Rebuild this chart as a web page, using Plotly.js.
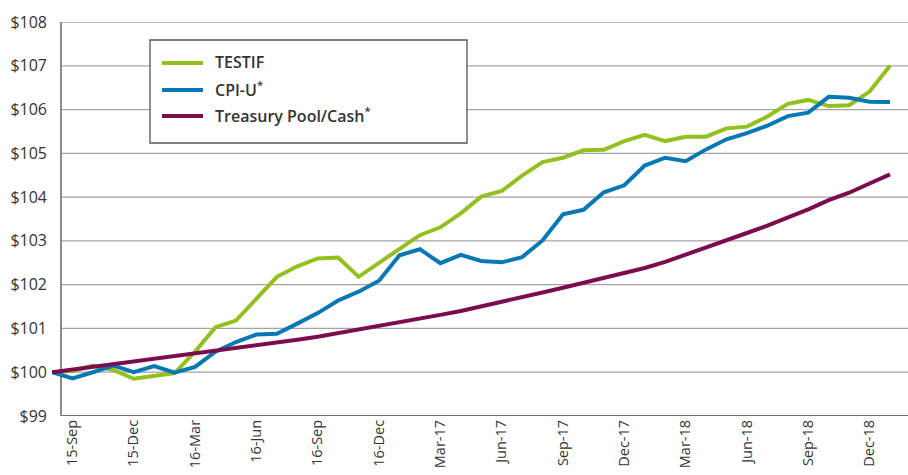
<!DOCTYPE html>
<html>
<head>
<meta charset="utf-8">
<script src="https://cdn.plot.ly/plotly-3.0.1.min.js"></script>
<style>
  html, body { margin: 0; padding: 0; background: #ffffff; }
  #chart { width: 908px; height: 475px; }
</style>
</head>
<body>
<div id="chart"></div>
<script>
// ---- Data ----
const months = [
  "Aug-15","Sep-15","Oct-15","Nov-15","Dec-15",
  "Jan-16","Feb-16","Mar-16","Apr-16","May-16","Jun-16","Jul-16","Aug-16","Sep-16","Oct-16","Nov-16","Dec-16",
  "Jan-17","Feb-17","Mar-17","Apr-17","May-17","Jun-17","Jul-17","Aug-17","Sep-17","Oct-17","Nov-17","Dec-17",
  "Jan-18","Feb-18","Mar-18","Apr-18","May-18","Jun-18","Jul-18","Aug-18","Sep-18","Oct-18","Nov-18","Dec-18",
  "Jan-19"
];

const testif = [
  100.00, 100.03, 100.15, 100.05, 99.85,
  99.92, 99.98, 100.47, 101.03, 101.18, 101.69, 102.18, 102.42, 102.60, 102.62, 102.18, 102.50,
  102.82, 103.13, 103.31, 103.63, 104.01, 104.14, 104.49, 104.80, 104.90, 105.07, 105.08, 105.28,
  105.42, 105.28, 105.38, 105.38, 105.57, 105.61, 105.84, 106.13, 106.22, 106.08, 106.10, 106.41,
  107.00
];

const cpiU = [
  100.00, 99.86, 100.00, 100.15, 100.00,
  100.14, 99.99, 100.12, 100.47, 100.69, 100.86, 100.88, 101.11, 101.35, 101.64, 101.84, 102.09,
  102.67, 102.81, 102.49, 102.68, 102.54, 102.51, 102.63, 103.01, 103.61, 103.71, 104.11, 104.27,
  104.72, 104.90, 104.82, 105.09, 105.32, 105.46, 105.63, 105.85, 105.93, 106.29, 106.27, 106.18,
  106.17
];

const treasury = [
  100.00, 100.06, 100.12, 100.18, 100.24,
  100.30, 100.36, 100.42, 100.48, 100.54, 100.60, 100.66, 100.74, 100.81, 100.89, 100.97, 101.05,
  101.13, 101.22, 101.31, 101.40, 101.50, 101.60, 101.71, 101.82, 101.93, 102.04, 102.15, 102.26,
  102.38, 102.52, 102.68, 102.86, 103.02, 103.18, 103.35, 103.53, 103.72, 103.93, 104.10, 104.31,
  104.52
];

const seriesNames = ["TESTIF", "CPI-U<sup>*</sup>", "Treasury Pool/Cash<sup>*</sup>"];
const seriesColors = ["#93c01f", "#0878b4", "#7b0d4e"];

const tickMonths = ["Sep-15","Dec-15","Mar-16","Jun-16","Sep-16","Dec-16","Mar-17","Jun-17","Sep-17","Dec-17","Mar-18","Jun-18","Sep-18","Dec-18"];
const tickLabels = ["15-Sep","15-Dec","16-Mar","16-Jun","16-Sep","16-Dec","Mar-17","Jun-17","Sep-17","Dec-17","Mar-18","Jun-18","Sep-18","Dec-18"];

const yTicks = [99, 100, 101, 102, 103, 104, 105, 106, 107, 108];
const yLabels = yTicks.map(v => "$" + v);

// ---- Layout helpers (pixel -> paper) ----
const W = 908, H = 475;
const M = { l: 52, r: 0, t: 22, b: 59 };
const PW = W - M.l - M.r, PH = H - M.t - M.b;
const px = x => (x - M.l) / PW;
const py = y => (H - M.b - y) / PH;

const axisX = px(61);

const seriesData = [testif, cpiU, treasury];
const traces = seriesData.map((vals, k) => ({
  type: "scatter",
  mode: "lines",
  x: months,
  y: vals,
  name: seriesNames[k],
  line: { color: seriesColors[k], width: 4, shape: "linear" },
  hoverinfo: "skip",
  showlegend: false
}));

const shapes = [];
// gridlines
yTicks.forEach(v => {
  if (v === yTicks[0]) return;
  shapes.push({
    type: "line", xref: "paper", yref: "y", x0: axisX, x1: 1, y0: v, y1: v,
    line: { color: "#a3a3a3", width: 1.3 }, layer: "below"
  });
});
// x axis line at bottom
shapes.push({
  type: "line", xref: "paper", yref: "y", x0: axisX, x1: 1, y0: yTicks[0], y1: yTicks[0],
  line: { color: "#3a3a3a", width: 1.6 }, layer: "below"
});
// y axis line
shapes.push({
  type: "line", xref: "paper", yref: "y", x0: axisX, x1: axisX, y0: yTicks[0], y1: yTicks[yTicks.length - 1],
  line: { color: "#8a8a8a", width: 2 }, layer: "below"
});
// legend box
shapes.push({
  type: "rect", xref: "paper", yref: "paper",
  x0: px(150), x1: px(467), y0: py(143), y1: py(40),
  line: { color: "#555555", width: 1.3 }, fillcolor: "#ffffff", layer: "above"
});
const legendY = [63, 90, 116];
const annotations = [];
seriesNames.forEach((n, k) => {
  shapes.push({
    type: "line", xref: "paper", yref: "paper",
    x0: px(162), x1: px(203), y0: py(legendY[k]), y1: py(legendY[k]),
    line: { color: seriesColors[k], width: 4 }, layer: "above"
  });
  annotations.push({
    xref: "paper", yref: "paper", x: px(213), y: py(legendY[k] - 1),
    xanchor: "left", yanchor: "middle", showarrow: false,
    text: n,
    font: { family: "Open Sans, sans-serif", size: 16, color: "#333333", weight: 600 }
  });
});

const layout = {
  width: W, height: H,
  margin: M,
  paper_bgcolor: "#ffffff",
  plot_bgcolor: "rgba(0,0,0,0)",
  showlegend: false,
  font: { family: "Open Sans, sans-serif", color: "#333333" },
  xaxis: {
    type: "category",
    range: [0, 41.88],
    tickmode: "array",
    tickvals: tickMonths,
    ticktext: tickLabels,
    tickangle: -90,
    showgrid: false, showline: false, zeroline: false,
    ticks: "",
    tickfont: { size: 14.5, color: "#333333" },
    fixedrange: true
  },
  yaxis: {
    range: [99, 108],
    tickmode: "array",
    tickvals: yTicks,
    ticktext: yLabels,
    showgrid: false, showline: false, zeroline: false,
    ticks: "",
    ticklabelstandoff: 4,
    tickfont: { size: 16, color: "#333333" },
    fixedrange: true
  },
  shapes: shapes,
  annotations: annotations
};

Plotly.newPlot("chart", traces, layout, { displayModeBar: false, staticPlot: true });
</script>
</body>
</html>
